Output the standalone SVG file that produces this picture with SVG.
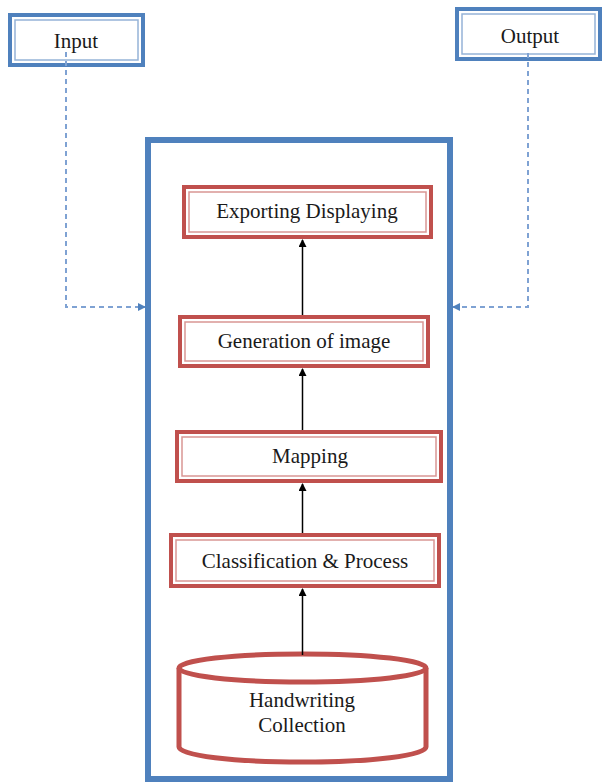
<svg xmlns="http://www.w3.org/2000/svg" width="602" height="782" viewBox="0 0 602 782">
<style>
.bo{fill:#fff;stroke:#4f81bd;stroke-width:4}
.bi{fill:none;stroke:#95b3d7;stroke-width:1.5}
.ro{fill:#fff;stroke:#c0504d;stroke-width:4}
.ri{fill:none;stroke:#d99694;stroke-width:1.5}
.t{font-family:"Liberation Serif",serif;font-size:21px;fill:#1a1a1a;text-anchor:middle}
.arr{stroke:#000;stroke-width:1.5;fill:none;marker-end:url(#ah)}
.dash{stroke:#7fa2d3;stroke-width:2;fill:none;stroke-dasharray:5 4;marker-end:url(#bh)}
</style>
<defs>
<marker id="ah" markerWidth="8" markerHeight="8" refX="7" refY="4" orient="auto" markerUnits="userSpaceOnUse"><path d="M0,0 L8,4 L0,8 z" fill="#000"/></marker>
<marker id="bh" markerWidth="8" markerHeight="8" refX="7" refY="4" orient="auto" markerUnits="userSpaceOnUse"><path d="M0,0 L8,4 L0,8 z" fill="#4f81bd"/></marker>
</defs>
<rect width="602" height="782" fill="#fff"/>
<g id="container"><rect x="148" y="140" width="302" height="639" fill="none" stroke="#4f81bd" stroke-width="6"/></g>
<g id="input"><rect class="bo" x="10" y="15" width="133" height="50"/><rect class="bi" x="15" y="20" width="123" height="40"/><text class="t" x="76" y="48">Input</text></g>
<g id="output"><rect class="bo" x="457" y="9" width="143" height="50"/><rect class="bi" x="462" y="14" width="133" height="40"/><text class="t" x="530" y="43">Output</text></g>
<g id="export"><rect class="ro" x="184" y="187" width="247" height="50"/><rect class="ri" x="189" y="192" width="237" height="40"/><text class="t" x="307" y="218">Exporting Displaying</text></g>
<g id="generation"><rect class="ro" x="180" y="317" width="248" height="49"/><rect class="ri" x="185" y="322" width="238" height="39"/><text class="t" x="304" y="348">Generation of image</text></g>
<g id="mapping"><rect class="ro" x="177" y="432" width="264" height="49"/><rect class="ri" x="182" y="437" width="254" height="39"/><text class="t" x="310" y="463">Mapping</text></g>
<g id="classification"><rect class="ro" x="171" y="535" width="268" height="51"/><rect class="ri" x="176" y="540" width="258" height="41"/><text class="t" x="305" y="568">Classification &amp; Process</text></g>
<g id="handwriting"><path d="M179,668 L179,747 A123,15 0 0 0 426,747 L426,668" fill="#fff" stroke="#c0504d" stroke-width="5"/><ellipse cx="302.5" cy="668" rx="123.5" ry="14" fill="#fff" stroke="#c0504d" stroke-width="5"/><text class="t" x="302" y="707">Handwriting</text><text class="t" x="302" y="732">Collection</text></g>
<g id="connectors">
<line class="arr" x1="302.5" y1="655" x2="302.5" y2="589"/>
<line class="arr" x1="302.5" y1="533" x2="302.5" y2="484"/>
<line class="arr" x1="302.5" y1="430" x2="302.5" y2="369"/>
<line class="arr" x1="302.5" y1="315" x2="302.5" y2="240"/>
<polyline class="dash" points="66,52 66,307 145,307"/>
<polyline class="dash" points="528,53 528,307 453,307"/>
</g>
</svg>
